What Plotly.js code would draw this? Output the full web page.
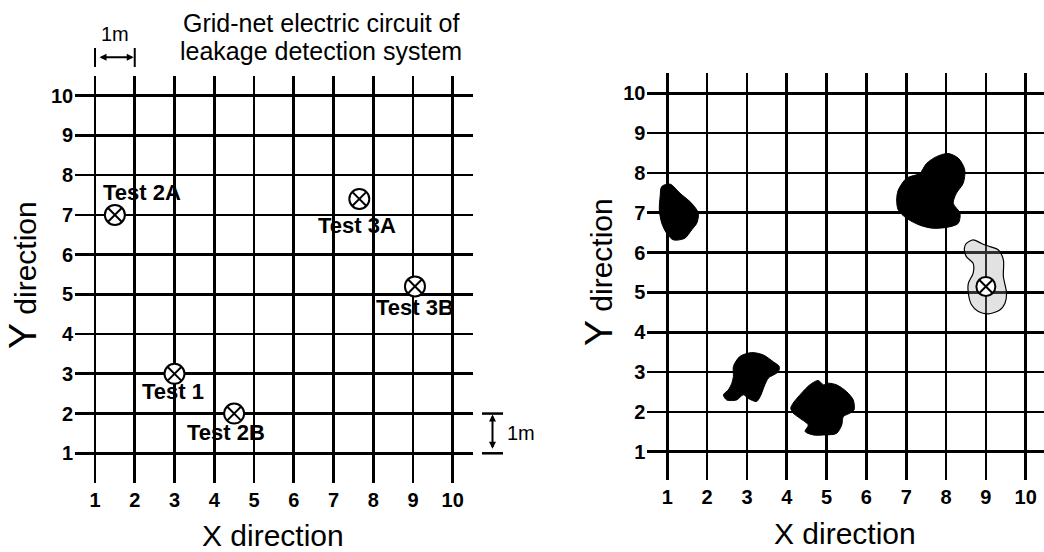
<!DOCTYPE html>
<html>
<head>
<meta charset="utf-8">
<script src="https://cdn.plot.ly/plotly-3.0.1.min.js"></script>
<style>html,body{margin:0;padding:0;background:#fff;}#plot{width:1044px;height:552px;}</style>
</head>
<body>
<div id="plot"></div>
<script>
// ---- data ----
const tickVals = [1, 2, 3, 4, 5, 6, 7, 8, 9, 10];
const tickText = ['1', '2', '3', '4', '5', '6', '7', '8', '9', '10'];

// left panel: test points
const testNames = ['Test 1', 'Test 2A', 'Test 2B', 'Test 3A', 'Test 3B'];
const testX = [3, 1.5, 4.5, 7.65, 9.05];
const testY = [3, 7, 2, 7.4, 5.2];
const testLabelX = [2.96, 2.19, 4.29, 7.59, 9.05];
const testLabelY = [2.55, 7.56, 1.52, 6.73, 4.67];

// right panel: leakage areas (outlines)
const blobAX = [0.86, 1.07, 1.32, 1.61, 1.78, 1.74, 1.61, 1.44, 1.15, 0.98, 0.86, 0.80, 0.82];
const blobAY = [7.66, 7.72, 7.49, 7.24, 6.99, 6.74, 6.57, 6.36, 6.32, 6.49, 6.74, 7.07, 7.41];

const blobBX = [6.80, 7.01, 7.34, 7.51, 7.76, 8.05, 8.31, 8.47, 8.43, 8.26, 8.18, 8.35, 8.31, 8.10, 7.68, 7.34, 7.01, 6.80, 6.76];
const blobBY = [7.57, 7.87, 7.99, 8.24, 8.41, 8.49, 8.37, 8.08, 7.74, 7.49, 7.24, 6.99, 6.74, 6.65, 6.61, 6.69, 6.86, 7.07, 7.32];

const blobCX = [2.66, 2.82, 3.12, 3.41, 3.66, 3.81, 3.79, 3.54, 3.45, 3.33, 3.24, 3.03, 2.91, 2.74, 2.49, 2.41, 2.53, 2.62, 2.66];
const blobCY = [3.14, 3.39, 3.49, 3.43, 3.26, 3.14, 3.01, 2.85, 2.68, 2.38, 2.26, 2.34, 2.43, 2.30, 2.30, 2.43, 2.55, 2.72, 2.89];

const blobDX = [4.16, 4.37, 4.58, 4.79, 4.92, 5.04, 5.25, 5.50, 5.67, 5.69, 5.59, 5.42, 5.38, 5.25, 4.92, 4.67, 4.46, 4.54, 4.33, 4.16, 4.10];
const blobDY = [2.22, 2.47, 2.68, 2.79, 2.68, 2.72, 2.68, 2.51, 2.30, 2.05, 1.97, 1.88, 1.67, 1.46, 1.42, 1.42, 1.51, 1.67, 1.84, 1.97, 2.09];

// gray (light) leakage zone around Test 3B
const blobEX = [8.51, 8.68, 8.89, 9.10, 9.31, 9.44, 9.44, 9.52, 9.48, 9.35, 9.06, 8.81, 8.64, 8.56, 8.56, 8.68, 8.68, 8.51, 8.46];
const blobEY = [6.23, 6.32, 6.23, 6.15, 6.07, 5.82, 5.40, 4.98, 4.73, 4.56, 4.46, 4.52, 4.69, 4.98, 5.23, 5.48, 5.73, 5.90, 6.11];
const rightMarkX = [9];
const rightMarkY = [5.15];

// ---- geometry / style ----
const W = 1044, H = 552;
const FONT = '"Liberation Sans", Arial, Helvetica, sans-serif';
const ax1 = {xd: [0.07196, 0.45268], xr: [0.5, 10.5], yd: [0.12482, 0.86268], yr: [0.25, 10.5]};
const ax2 = {xd: [0.62011, 1.0], xr: [0.5, 10.46], yd: [0.1312, 0.8670], yr: [0.3, 10.5]};
function px(a, v) { return a.xd[0] + (v - a.xr[0]) / (a.xr[1] - a.xr[0]) * (a.xd[1] - a.xd[0]); }
function py(a, v) { return a.yd[0] + (v - a.yr[0]) / (a.yr[1] - a.yr[0]) * (a.yd[1] - a.yd[0]); }
function fromPix(x, y) { return [x / W, 1 - y / H]; }

function axisX(a, anchor) {
  return {domain: a.xd, range: a.xr, anchor: anchor, tickvals: tickVals, ticktext: tickText,
    showgrid: true, gridcolor: '#000', gridwidth: 2.7, zeroline: false, showline: false,
    ticks: '', ticklabelstandoff: 3, fixedrange: true,
    tickfont: {family: FONT, size: 20, color: '#000', weight: 700}};
}
function axisY(a, anchor) {
  return {domain: a.yd, range: a.yr, anchor: anchor, tickvals: tickVals, ticktext: tickText,
    showgrid: true, gridcolor: '#000', gridwidth: 2.7, zeroline: false, showline: false,
    ticks: '', ticklabelstandoff: 1, fixedrange: true,
    tickfont: {family: FONT, size: 20, color: '#000', weight: 700}};
}

function blob(xs, ys, fill, lineColor, lw) {
  return {type: 'scatter', mode: 'lines', x: xs.concat([xs[0]]), y: ys.concat([ys[0]]),
    fill: 'toself', fillcolor: fill, line: {color: lineColor, width: lw, shape: 'spline', smoothing: 0.8},
    xaxis: 'x2', yaxis: 'y2', hoverinfo: 'skip', showlegend: false};
}

const traces = [
  {type: 'scatter', mode: 'markers', x: testX, y: testY, xaxis: 'x', yaxis: 'y',
    marker: {symbol: 'circle-x', size: 20, color: '#fff', line: {color: '#000', width: 2}},
    showlegend: false, cliponaxis: false, hoverinfo: 'skip'},
  blob(blobAX, blobAY, '#000', '#000', 1),
  blob(blobBX, blobBY, '#000', '#000', 1),
  blob(blobCX, blobCY, '#000', '#000', 1),
  blob(blobDX, blobDY, '#000', '#000', 1),
  blob(blobEX, blobEY, 'rgba(160,160,160,0.3)', '#000', 1.2),
  {type: 'scatter', mode: 'markers', x: rightMarkX, y: rightMarkY, xaxis: 'x2', yaxis: 'y2',
    marker: {symbol: 'circle-x', size: 19, color: '#fff', line: {color: '#000', width: 2}},
    showlegend: false, hoverinfo: 'skip'}
];

const annotations = [];
// test labels
for (let i = 0; i < testNames.length; i++) {
  annotations.push({xref: 'x', yref: 'y', x: testLabelX[i], y: testLabelY[i], text: testNames[i],
    showarrow: false, xanchor: 'center', yanchor: 'middle',
    font: {family: FONT, size: 22, color: '#000', weight: 700}});
}
// title (two lines)
let p = fromPix(321, 22.5);
annotations.push({xref: 'paper', yref: 'paper', x: p[0], y: p[1], text: 'Grid-net electric circuit of',
  showarrow: false, borderpad: 0, xanchor: 'center', yanchor: 'middle', font: {family: FONT, size: 25, color: '#000'}});
p = fromPix(321, 50.5);
annotations.push({xref: 'paper', yref: 'paper', x: p[0], y: p[1], text: 'leakage detection system',
  showarrow: false, borderpad: 0, xanchor: 'center', yanchor: 'middle', font: {family: FONT, size: 25, color: '#000'}});
// axis titles
[[273, 535], [845, 533]].forEach(function (t) {
  const q = fromPix(t[0], t[1]);
  annotations.push({xref: 'paper', yref: 'paper', x: q[0], y: q[1], text: 'X direction', showarrow: false,
    borderpad: 0, xanchor: 'center', yanchor: 'middle', font: {family: FONT, size: 30, color: '#000'}});
});
[[22, 275], [598, 272]].forEach(function (t) {
  const q = fromPix(t[0], t[1]);
  annotations.push({xref: 'paper', yref: 'paper', x: q[0], y: q[1], textangle: -90,
    text: '<span style="font-size:39px">Y</span> direction', showarrow: false,
    xanchor: 'center', yanchor: 'middle', font: {family: FONT, size: 30, color: '#000'}});
});
// 1m scale (horizontal) on top of left panel
const sTopY = 1 - 57.3 / H;
annotations.push({xref: 'paper', yref: 'paper', x: px(ax1, 2), y: sTopY, ax: -(px(ax1, 2) - px(ax1, 1)) * W + 2, ay: 0,
  text: '', showarrow: true, arrowside: 'end+start', arrowhead: 2, arrowsize: 0.7, arrowwidth: 2, arrowcolor: '#000', standoff: 1, startstandoff: 1});
p = fromPix(114, 34);
annotations.push({xref: 'paper', yref: 'paper', x: (px(ax1, 1) + px(ax1, 2)) / 2, y: p[1], text: '1m', showarrow: false,
  borderpad: 0, xanchor: 'center', yanchor: 'middle', font: {family: FONT, size: 20, color: '#000'}});
// 1m scale (vertical) right of left panel
const sx = 492.5 / W;
annotations.push({xref: 'paper', yref: 'paper', x: sx, y: py(ax1, 2), ax: 0, ay: (py(ax1, 2) - py(ax1, 1)) * H - 2,
  text: '', showarrow: true, arrowside: 'end+start', arrowhead: 2, arrowsize: 0.7, arrowwidth: 2, arrowcolor: '#000', standoff: 1, startstandoff: 1});
annotations.push({xref: 'paper', yref: 'paper', x: 505 / W, y: (py(ax1, 1) + py(ax1, 2)) / 2, text: '1m', showarrow: false,
  xanchor: 'left', yanchor: 'middle', font: {family: FONT, size: 20, color: '#000'}});

const shapes = [];
[1, 2].forEach(function (v) {
  shapes.push({type: 'line', xref: 'paper', yref: 'paper', x0: px(ax1, v), x1: px(ax1, v),
    y0: 1 - 48 / H, y1: 1 - 67 / H, line: {color: '#000', width: 2}});
  shapes.push({type: 'line', xref: 'paper', yref: 'paper', x0: 482 / W, x1: 503 / W,
    y0: py(ax1, v), y1: py(ax1, v), line: {color: '#000', width: 2.5}});
});

const layout = {
  width: W, height: H, margin: {l: 0, r: 0, t: 0, b: 0},
  paper_bgcolor: '#fff', plot_bgcolor: '#fff', showlegend: false,
  font: {family: FONT, color: '#000'},
  xaxis: axisX(ax1, 'y'), yaxis: axisY(ax1, 'x'),
  xaxis2: axisX(ax2, 'y2'), yaxis2: axisY(ax2, 'x2'),
  annotations: annotations, shapes: shapes
};

Plotly.newPlot('plot', traces, layout, {staticPlot: true, displayModeBar: false});
</script>
</body>
</html>
